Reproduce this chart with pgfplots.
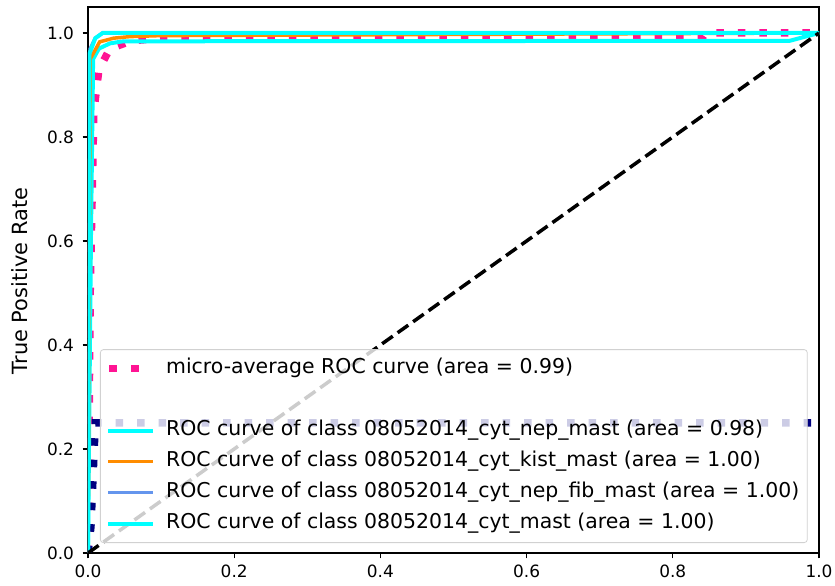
\documentclass[border=0pt]{standalone}
\usepackage{pgfplots}
\pgfplotsset{compat=1.18}
\usepackage{fontspec}
\setmainfont{DejaVu Sans}
\definecolor{deeppink}{RGB}{255,20,147}
\definecolor{navyc}{RGB}{0,0,128}
\definecolor{cyanc}{RGB}{0,255,255}
\definecolor{darkorange}{RGB}{255,140,0}
\definecolor{cornflower}{RGB}{100,149,237}
\begin{document}
\begin{tikzpicture}
\begin{axis}[
  at={(0,0)}, anchor=south west,
  scale only axis, width=731bp, height=546bp,
  xmin=0, xmax=1, ymin=0, ymax=1.05,
  xtick={0,0.2,0.4,0.6,0.8,1.0},
  ytick={0,0.2,0.4,0.6,0.8,1.0},
  xticklabels={0.0,0.2,0.4,0.6,0.8,1.0},
  yticklabels={0.0,0.2,0.4,0.6,0.8,1.0},
  xtick pos=bottom, ytick pos=left,
  tick align=outside, major tick length=5.5bp,
  every tick/.style={black, line width=1.1bp},
  axis line style={line width=1.1bp},
  tick label style={font=\fontsize{17}{20}\selectfont},
  yticklabel style={xshift=-5bp},
  xticklabel style={yshift=-3bp},
  ylabel={True Positive Rate},
  ylabel style={font=\fontsize{21}{24}\selectfont, at={(axis description cs:-0.0937,0.498)}, anchor=center},
  legend cell align=left,
  legend style={at={(axis description cs:0.0164,0.0183)}, anchor=south west,
    fill=white, fill opacity=0.8, text opacity=1, draw opacity=1,
    draw=black!18, line width=0.8bp, rounded corners=3bp,
    font=\fontsize{20.5}{24}\selectfont,
    nodes={text height=15bp, text depth=5bp, inner sep=3bp},
    row sep=5bp, column sep=8bp, inner xsep=5bp, inner ysep=6bp},
]
% micro-average
\addplot[deeppink, line width=7.5bp, dash pattern=on 7.5bp off 14bp,
  legend image code/.code={\draw[deeppink, line width=7.5bp] (1bp,0bp)--(9bp,0bp) (23bp,0bp)--(31bp,0bp);}]
  coordinates {(0,0) (0.003,0.5) (0.008,0.85) (0.015,0.93) (0.03,0.97) (0.06,0.985) (0.1,0.99) (0.84,0.99) (0.845,1.0) (1,1)};
\addlegendentry{micro-average ROC curve (area = 0.99)}
% macro-average (blank legend entry)
\addplot[navyc, line width=7.5bp, dash pattern=on 7.5bp off 14bp,
  legend image code/.code={}]
  coordinates {(0,0) (0.004,0.05) (0.007,0.15) (0.01,0.25) (1,0.25)};
\addlegendentry{}
% classes
\addplot[cyanc, line width=4bp,
  legend image code/.code={\draw[cyanc, line width=4bp] (0bp,0bp)--(45bp,0bp);}]
  coordinates {(0,0) (0.004,0.6) (0.007,0.95) (0.015,0.97) (0.03,0.98) (0.048,0.984) (0.96,0.985) (1,1)};
\addlegendentry{ROC curve of class 08052014\_cyt\_nep\_mast (area = 0.98)}
\addplot[darkorange, line width=3.5bp,
  legend image code/.code={\draw[darkorange, line width=3.5bp] (0bp,0bp)--(45bp,0bp);}]
  coordinates {(0,0) (0.003,0.95) (0.016,0.983) (0.035,0.99) (0.057,0.993) (0.1,0.995) (1,1)};
\addlegendentry{ROC curve of class 08052014\_cyt\_kist\_mast (area = 1.00)}
\addplot[cornflower, line width=3.5bp,
  legend image code/.code={\draw[cornflower, line width=3.5bp] (0bp,0bp)--(45bp,0bp);}]
  coordinates {(0,0) (0,0.93) (0.003,0.97) (0.01,0.99) (0.02,1) (1,1)};
\addlegendentry{ROC curve of class 08052014\_cyt\_nep\_fib\_mast (area = 1.00)}
\addplot[cyanc, line width=4bp,
  legend image code/.code={\draw[cyanc, line width=4bp] (0bp,0bp)--(45bp,0bp);}]
  coordinates {(0,0) (0.002,0.96) (0.01,0.99) (0.02,1) (1,1)};
\addlegendentry{ROC curve of class 08052014\_cyt\_mast (area = 1.00)}
% diagonal
\addplot[black, line width=3.5bp, dash pattern=on 13bp off 6bp, forget plot]
  coordinates {(0,0) (1,1)};
\end{axis}
\pgfresetboundingbox
\path[use as bounding box] (-88bp,-33bp) rectangle (747bp,553bp);
\end{tikzpicture}
\end{document}
